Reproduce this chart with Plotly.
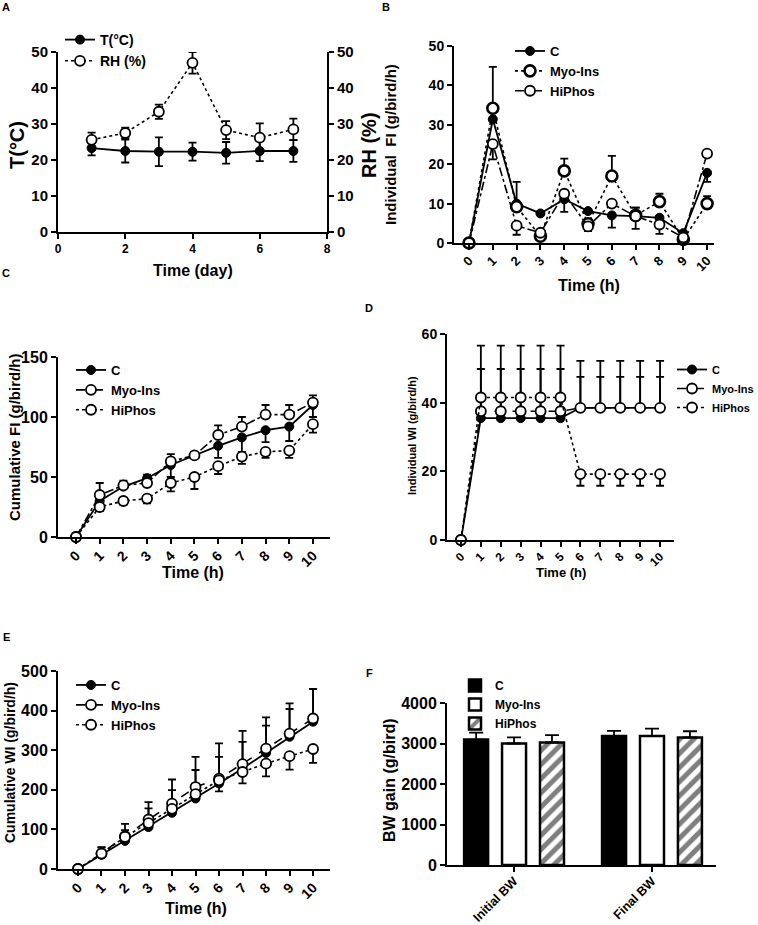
import plotly.graph_objects as go

W, H = 758, 925
FONT = "Liberation Sans"


def xd(a, b):
    return [a / W, b / W]


def yd(top, bot):
    return [1 - bot / H, 1 - top / H]


def px(x):
    return x / W


def py(y):
    return 1 - y / H


# ---------------- DATA ----------------
# Panel A
days = [1, 2, 3, 4, 5, 6, 7]
temp_c = [23.3, 22.5, 22.3, 22.3, 22.0, 22.5, 22.5]
temp_err = [2.0, 3.2, 4.0, 2.5, 3.0, 2.8, 3.0]
rh_pct = [25.6, 27.5, 33.4, 47.0, 28.3, 26.2, 28.5]
rh_err = [2.0, 1.5, 2.0, 3.0, 2.5, 4.0, 3.0]

hours = [0, 1, 2, 3, 4, 5, 6, 7, 8, 9, 10]
hour_labels = ["0", "1", "2", "3", "4", "5", "6", "7", "8", "9", "10"]

# Panel B: individual feed intake
fi_c = [0, 31.4, 10.0, 7.5, 11.1, 8.1, 7.0, 6.8, 6.4, 2.5, 17.8]
fi_c_up = [0, 0, 5.5, 0, 0, 0, 0, 2.2, 0, 0, 0]
fi_c_dn = [0, 0, 0, 0, 3.2, 0, 3.1, 3.2, 0, 0, 2.3]
fi_myo = [0, 34.2, 9.2, 1.7, 18.3, 4.9, 17.0, 7.0, 10.5, 0.9, 10.0]
fi_myo_up = [0, 10.5, 0, 0, 3.1, 0, 5.1, 2.0, 2.0, 0, 1.9]
fi_hiphos = [0, 25.1, 4.4, 2.6, 12.5, 4.2, 10.0, 6.8, 4.7, 1.4, 22.7]
fi_hiphos_dn = [0, 3.9, 2.3, 0, 0, 1.2, 0, 0, 2.4, 0, 0]

# Panel C: cumulative feed intake
cfi_c = [0, 30, 42, 49, 60, 68, 76, 83, 89, 92, 110]
cfi_c_dn = [0, 0, 0, 0, 10, 0, 10, 12, 10, 12, 10]
cfi_myo = [0, 35, 43, 45, 63, 68, 85, 92, 102, 102, 112]
cfi_myo_up = [0, 10, 4, 7, 6, 0, 8, 8, 8, 8, 6]
cfi_hiphos = [0, 25, 30, 32, 45, 50, 59, 67, 71, 72, 94]
cfi_hiphos_dn = [0, 3.5, 3, 4, 7, 10, 6.5, 6, 5, 6, 7]

# Panel D: individual water intake
wi_c = [0, 35.5, 35.5, 35.5, 35.5, 35.5, 38.5, 38.5, 38.5, 38.5, 38.5]
wi_c_up = [0, 14.3, 14.3, 14.3, 14.3, 14.3, 9.0, 9.0, 9.0, 9.0, 9.0]
wi_myo = [0, 37.5, 37.5, 37.5, 37.5, 37.5, 38.5, 38.5, 38.5, 38.5, 38.5]
wi_myo_up = [0, 19.1, 19.1, 19.1, 19.1, 19.1, 13.7, 13.7, 13.7, 13.7, 13.7]
wi_hiphos = [0, 41.5, 41.5, 41.5, 41.5, 41.5, 19.2, 19.2, 19.2, 19.2, 19.2]
wi_hiphos_dn = [0, 0, 0, 0, 0, 0, 3.4, 3.4, 3.4, 3.4, 3.4]

# Panel E: cumulative water intake
cwi_c = [0, 36, 71, 106, 142, 178, 216, 254, 293, 334, 372]
cwi_c_up = [0, 18, 27, 47, 57, 72, 67, 67, 69, 70, 83]
cwi_myo = [0, 39, 83, 125, 165, 207, 228, 265, 304, 342, 380]
cwi_myo_up = [0, 16, 31, 44, 61, 76, 89, 84, 79, 76, 74]
cwi_hiphos = [0, 39, 81, 116, 152, 189, 224, 245, 266, 285, 303]
cwi_hiphos_dn = [0, 0, 0, 0, 0, 0, 28, 29, 32, 34, 35]

# Panel F: body weight gain
bw_groups = ["Initial BW", "Final BW"]
bw_c = [3098, 3188]
bw_c_err = [170, 123]
bw_myo = [3000, 3188]
bw_myo_err = [150, 180]
bw_hiphos = [3025, 3148]
bw_hiphos_err = [180, 155]

# ---------------- FIGURE ----------------
fig = go.Figure()

STYLE = {
    "filled": dict(symbol="circle", size=9, color="black", line=dict(color="black", width=1)),
    "open_thick": dict(symbol="circle", size=11, color="white", line=dict(color="black", width=2.6)),
    "open": dict(symbol="circle", size=10, color="white", line=dict(color="black", width=1.8)),
}


def series(x, y, xa, ya, name, legend, kind, dash, up=None, down=None, lw=1.6):
    n = len(y)
    up = up if up is not None else [0] * n
    down = down if down is not None else [0] * n
    fig.add_trace(go.Scatter(
        x=x, y=y, xaxis=xa, yaxis=ya, name=name, legend=legend,
        mode="lines+markers",
        line=dict(color="black", width=lw, dash=dash),
        marker=STYLE[kind],
        error_y=dict(type="data", symmetric=False, array=up, arrayminus=down,
                     color="black", thickness=1.8, width=4),
        cliponaxis=False,
    ))


# A
series(days, temp_c, "x", "y", "T(°C)", "legend", "filled", "solid", temp_err, temp_err, lw=1.8)
series(days, rh_pct, "x", "y2", "RH (%)", "legend", "open", "dot", rh_err, rh_err)
# B
series(hours, fi_c, "x3", "y3", "C", "legend2", "filled", "solid", fi_c_up, fi_c_dn, lw=1.8)
series(hours, fi_myo, "x3", "y3", "Myo-Ins", "legend2", "open_thick", "dot", fi_myo_up, None)
series(hours, fi_hiphos, "x3", "y3", "HiPhos", "legend2", "open", "dashdot", None, fi_hiphos_dn)
# C
series(hours, cfi_c, "x4", "y4", "C", "legend3", "filled", "solid", None, cfi_c_dn, lw=1.8)
series(hours, cfi_myo, "x4", "y4", "Myo-Ins", "legend3", "open", "dashdot", cfi_myo_up, None)
series(hours, cfi_hiphos, "x4", "y4", "HiPhos", "legend3", "open", "dot", None, cfi_hiphos_dn)
# D
series(hours, wi_c, "x5", "y5", "C", "legend4", "filled", "solid", wi_c_up, None, lw=1.8)
series(hours, wi_myo, "x5", "y5", "Myo-Ins", "legend4", "open", "dash", wi_myo_up, None)
series(hours, wi_hiphos, "x5", "y5", "HiPhos", "legend4", "open", "dot", None, wi_hiphos_dn)
# E
series(hours, cwi_c, "x6", "y6", "C", "legend5", "filled", "solid", cwi_c_up, None, lw=1.8)
series(hours, cwi_myo, "x6", "y6", "Myo-Ins", "legend5", "open", "dash", cwi_myo_up, None)
series(hours, cwi_hiphos, "x6", "y6", "HiPhos", "legend5", "open", "dot", None, cwi_hiphos_dn)

# F bars
BAR_W = 0.174
bar_specs = [
    ("C", bw_c, bw_c_err, "black", "", -0.362),
    ("Myo-Ins", bw_myo, bw_myo_err, "white", "", -0.087),
    ("HiPhos", bw_hiphos, bw_hiphos_err, "white", "/", 0.188),
]
for name, vals, errs, color, shape, off in bar_specs:
    fig.add_trace(go.Bar(
        x=bw_groups, y=vals, xaxis="x7", yaxis="y7", name=name, legend="legend6",
        width=BAR_W, offset=off,
        marker=dict(color=color, line=dict(color="black", width=2.5),
                    pattern=dict(shape=shape, fgcolor="black", bgcolor="white",
                                 size=10, solidity=0.5)),
        error_y=dict(type="data", symmetric=False, array=errs, arrayminus=[0] * len(errs),
                     color="black", thickness=1.8, width=7),
    ))


def ax(size, **kw):
    d = dict(showline=True, linecolor="black", linewidth=2, ticks="outside",
             ticklen=5, tickwidth=2, tickcolor="black", showgrid=False,
             zeroline=False, mirror=False, automargin=False,
             tickfont=dict(family=FONT, size=size, color="black", weight="bold"))
    d.update(kw)
    return d


cat_x = dict(tickmode="array", tickvals=hours, ticktext=hour_labels, tickangle=-45,
             ticklabelstandoff=-2)

layout = dict(
    width=W, height=H, autosize=False,
    margin=dict(l=0, r=0, t=0, b=0, pad=0, autoexpand=False),
    paper_bgcolor="white", plot_bgcolor="rgba(0,0,0,0)",
    font=dict(family=FONT, color="black"),
    barmode="overlay",
    xaxis=ax(12, domain=xd(58, 327), anchor="y", range=[0, 8], tickvals=[0, 2, 4, 6, 8]),
    yaxis=ax(15, domain=yd(52, 232), anchor="x", range=[0, 50], dtick=10),
    yaxis2=ax(15, overlaying="y", side="right", anchor="x", range=[0, 50], dtick=10),
    xaxis3=ax(13, domain=xd(454, 714), anchor="y3", range=[-0.63, 10.29], **cat_x),
    yaxis3=ax(14, domain=yd(46, 243), anchor="x3", range=[0, 50], dtick=10),
    xaxis4=ax(14, domain=xd(58, 330), anchor="y4", range=[-0.76, 10.72], **cat_x),
    yaxis4=ax(16, domain=yd(357, 537), anchor="x4", range=[0, 150], dtick=50),
    xaxis5=ax(12, domain=xd(447, 674), anchor="y5", range=[-0.7, 10.7], **cat_x),
    yaxis5=ax(14, domain=yd(334, 540), anchor="x5", range=[0, 60], dtick=20),
    xaxis6=ax(14, domain=xd(58, 330), anchor="y6", range=[-0.85, 10.72], **cat_x),
    yaxis6=ax(16, domain=yd(671, 869), anchor="x6", range=[0, 500], dtick=100),
    xaxis7=ax(12.5, domain=xd(447, 716), anchor="y7", range=[-0.486, 1.464], tickangle=-45,
              ticklabelstandoff=-3, ticklabeloverflow="allow"),
    yaxis7=ax(16, domain=yd(703, 865), anchor="x7", range=[0, 4000], dtick=1000),
)


def leg(x, y, size):
    return dict(x=px(x), y=py(y), xanchor="left", yanchor="top", bgcolor="rgba(0,0,0,0)",
                borderwidth=0, font=dict(family=FONT, size=size, color="black", weight="bold"),
                traceorder="normal", itemsizing="trace")


layout["legend"] = leg(60, 24, 14)
layout["legend2"] = leg(510, 36, 13)
layout["legend3"] = leg(71, 355, 13)
layout["legend4"] = leg(672, 355, 11)
layout["legend5"] = leg(71, 670, 13)
layout["legend6"] = leg(455, 671, 12)

fig.update_layout(**layout)


def txt(x, y, s, size, angle=0):
    fig.add_annotation(x=px(x), y=py(y), xref="paper", yref="paper", text=s,
                       showarrow=False, textangle=angle, xanchor="center", yanchor="middle",
                       font=dict(family=FONT, size=size, color="black", weight="bold"))


# panel letters
txt(6, 7, "A", 11)
txt(386, 7, "B", 11)
txt(6, 273, "C", 11)
txt(369, 308, "D", 11)
txt(6, 637, "E", 11)
txt(369, 673, "F", 11)

# axis titles
txt(17, 145, "T(°C)", 20, -90)
txt(369, 145, "RH (%)", 20, -90)
txt(193, 270, "Time (day)", 16)

txt(391, 145, "Individual\u00a0 FI (g/bird/h)", 15, -90)
txt(589, 286, "Time (h)", 16)

txt(14, 437, "Cumulative FI (g/bird/h)", 15, -90)
txt(193, 572, "Time (h)", 16)

txt(412, 436, "Individual WI (g/bird/h)", 11, -90)
txt(561, 572, "Time (h)", 13)

txt(10, 763, "Cumulative WI (g/bird/h)", 14, -90)
txt(196, 908, "Time (h)", 16)

txt(389, 780, "BW gain (g/bird)", 16, -90)

fig.write_html(
    "out.html",
    config={"displayModeBar": False},
    post_script="document.documentElement.style.margin='0';"
                "document.body.style.margin='0';document.body.style.overflow='hidden';",
)
